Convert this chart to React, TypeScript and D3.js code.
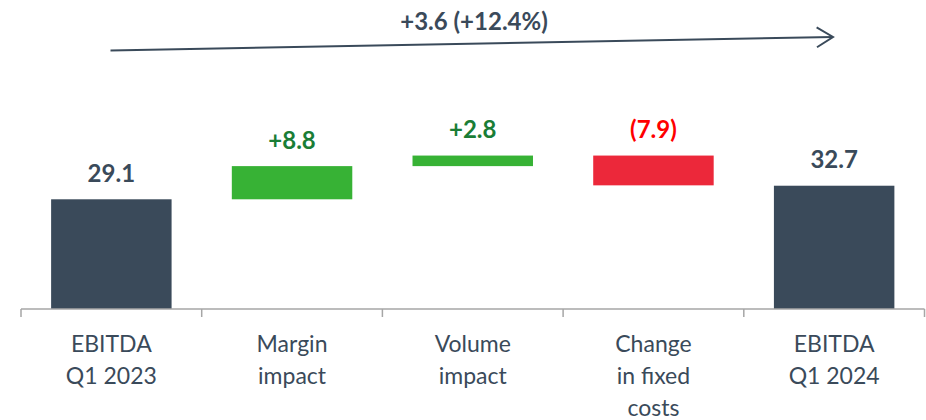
import React from "react";
import * as d3 from "d3";

const categories = [
  ["EBITDA", "Q1 2023"],
  ["Margin", "impact"],
  ["Volume", "impact"],
  ["Change", "in fixed", "costs"],
  ["EBITDA", "Q1 2024"],
];
const kinds = ["total", "delta", "delta", "delta", "total"];
const values = [29.1, 8.8, 2.8, -7.9, 32.7];
const valueLabels = ["29.1", "+8.8", "+2.8", "(7.9)", "32.7"];
const summaryLabel = "+3.6 (+12.4%)";

const W = 926;
const H = 420;
const DARK = "#3a4a5a";
const FONT = "Lato, 'Open Sans', sans-serif";

export default function App() {
  const keys = categories.map((_, i) => String(i));
  const x = d3
    .scaleBand<string>()
    .domain(keys)
    .range([21, 924.5])
    .paddingInner(1 / 3)
    .paddingOuter(1 / 6);
  const base = 309;
  const k = 3.77;
  const y = d3.scaleLinear().domain([0, 80]).range([base, base - 80 * k]);

  let running = 0;
  const bars = values.map((v, i) => {
    let y0: number, y1: number;
    if (kinds[i] === "total") {
      y0 = 0;
      y1 = v;
      running = v;
    } else {
      y0 = running;
      y1 = running + v;
      running = y1;
    }
    const top = Math.max(y0, y1);
    const bottom = Math.min(y0, y1);
    let fill = DARK;
    let textFill = DARK;
    if (kinds[i] === "delta") {
      fill = v >= 0 ? "#37b235" : "#ec283a";
      textFill = v >= 0 ? "#1a7d36" : "#ff0000";
    }
    return { i, top, bottom, fill, textFill };
  });

  const tickXs = d3.range(keys.length + 1).map((j) => 21 + j * x.step());

  // arrow
  const ax0 = 110.5, ay0 = 50.5, ax1 = 833, ay1 = 37;
  const ang = Math.atan2(ay1 - ay0, ax1 - ax0);
  const hl = 19;
  const ha = 0.55;
  const h1 = [ax1 - hl * Math.cos(ang - ha), ay1 - hl * Math.sin(ang - ha)];
  const h2 = [ax1 - hl * Math.cos(ang + ha), ay1 - hl * Math.sin(ang + ha)];

  return (
    <svg
      width={W}
      height={H}
      style={{ position: "absolute", left: 0, top: 0, display: "block", background: "#fff" }}
      fontFamily={FONT}
    >
      {bars.map((b) => (
        <g key={b.i}>
          <rect
            x={x(String(b.i))}
            width={x.bandwidth()}
            y={y(b.top)}
            height={y(b.bottom) - y(b.top)}
            fill={b.fill}
          />
          <text
            x={(x(String(b.i)) as number) + x.bandwidth() / 2}
            y={y(b.top) - 17.5}
            textAnchor="middle"
            fontWeight="bold"
            fontSize={24}
            fill={b.textFill}
          >
            {valueLabels[b.i]}
          </text>
        </g>
      ))}
      <line x1={21} x2={924.5} y1={base} y2={base} stroke="#a6a6a6" strokeWidth={1.5} />
      {tickXs.map((tx, j) => (
        <line key={j} x1={tx} x2={tx} y1={base} y2={base + 8} stroke="#a6a6a6" strokeWidth={1.5} />
      ))}
      {categories.map((lines, i) => (
        <text
          key={i}
          x={(x(String(i)) as number) + x.bandwidth() / 2}
          textAnchor="middle"
          fontSize={23}
          fill={DARK}
        >
          {lines.map((l, j) => (
            <tspan key={j} x={(x(String(i)) as number) + x.bandwidth() / 2} y={352 + j * 32}>
              {l}
            </tspan>
          ))}
        </text>
      ))}
      <line x1={ax0} y1={ay0} x2={ax1} y2={ay1} stroke={DARK} strokeWidth={2} />
      <polyline
        points={`${h1[0]},${h1[1]} ${ax1},${ay1} ${h2[0]},${h2[1]}`}
        fill="none"
        stroke={DARK}
        strokeWidth={2}
      />
      <text x={474} y={30} textAnchor="middle" fontWeight="bold" fontSize={24} fill={DARK}>
        {summaryLabel}
      </text>
    </svg>
  );
}
